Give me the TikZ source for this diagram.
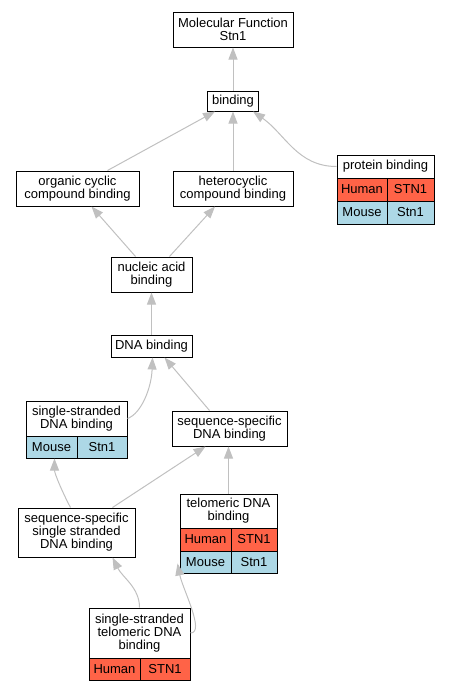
\documentclass[tikz,border=0pt]{standalone}
\usepackage{fontspec}
\setmainfont{Liberation Sans}
\usepackage{xcolor}
\usetikzlibrary{arrows.meta}
\definecolor{humanred}{HTML}{FF6347}
\definecolor{mouseblue}{HTML}{ADD8E6}
\definecolor{edgegray}{HTML}{C0C0C0}
\tikzset{
    term/.style={draw, line width=1pt, fill=white, align=center, inner sep=0pt,
        font=\fontsize{13}{13}\selectfont},
    human/.style={term, fill=humanred},
    mouse/.style={term, fill=mouseblue},
    edge/.style={draw=edgegray, line width=1pt, -{Triangle[length=12pt, width=9pt, fill=edgegray]}}
}
\begin{document}
\begin{tikzpicture}[x=1pt, y=-1pt]
        \useasboundingbox (0, 0) rectangle (449, 691);
        \node[term, minimum width=120, minimum height=35] at (233, 29.5)   (mf)  {Molecular Function\\Stn1};
        \node[term, minimum width=51, minimum height=20]  at (233, 101)    (bind) {binding};
        \node[term, minimum width=123, minimum height=35] at (77.5, 188.5) (org) {organic cyclic\\compound binding};
        \node[term, minimum width=120, minimum height=35] at (233, 188.5)  (het) {heterocyclic\\compound binding};
        % protein binding table
        \node[term, minimum width=97, minimum height=23]  at (385.5, 166.5) (pb)   {protein binding};
        \node[human, minimum width=50, minimum height=23] at (362, 189.5)   (pbH1) {Human};
        \node[human, minimum width=47, minimum height=23] at (410.5, 189.5) (pbH2) {STN1};
        \node[mouse, minimum width=50, minimum height=23] at (362, 212.5)   (pbM1) {Mouse};
        \node[mouse, minimum width=47, minimum height=23] at (410.5, 212.5) (pbM2) {Stn1};
        \node[term, minimum width=81, minimum height=35]  at (151.5, 274.5) (nuc) {nucleic acid\\binding};
        \node[term, minimum width=81, minimum height=22]  at (151.5, 346)   (dna) {DNA binding};
        % single-stranded DNA binding table
        \node[term, minimum width=101, minimum height=35] at (76.5, 418.5) (ss)   {single-stranded\\DNA binding};
        \node[mouse, minimum width=51, minimum height=22] at (51.5, 447)   (ssM1) {Mouse};
        \node[mouse, minimum width=50, minimum height=22] at (102, 447)    (ssM2) {Stn1};
        \node[term, minimum width=115, minimum height=35] at (229.5, 428.5) (seq) {sequence-specific\\DNA binding};
        \node[term, minimum width=117, minimum height=49] at (76.5, 532.5)  (seqss) {sequence-specific\\single stranded\\DNA binding};
        % telomeric DNA binding table
        \node[term, minimum width=97, minimum height=34]  at (228.5, 511)   (tel)   {telomeric DNA\\binding};
        \node[human, minimum width=51, minimum height=23] at (205.5, 539.5) (telH1) {Human};
        \node[human, minimum width=46, minimum height=23] at (254, 539.5)   (telH2) {STN1};
        \node[mouse, minimum width=51, minimum height=22] at (205.5, 562)   (telM1) {Mouse};
        \node[mouse, minimum width=46, minimum height=22] at (254, 562)     (telM2) {Stn1};
        % single-stranded telomeric DNA binding table
        \node[term, minimum width=101, minimum height=50] at (139.5, 633)   (sstel)   {single-stranded\\telomeric DNA\\binding};
        \node[human, minimum width=51, minimum height=22] at (114.5, 669)   (sstelH1) {Human};
        \node[human, minimum width=50, minimum height=22] at (165, 669)     (sstelH2) {STN1};
        \coordinate (telin) at ([xshift=-2pt, yshift=10pt]telM1.south west);

        \draw [edge] (bind) -- (mf);
        \draw [edge] ([xshift=30pt]org.north) -- ([xshift=-18pt]bind.south);
        \draw [edge] (het) -- (bind);
        \draw [edge] (pb.west) to[out=180, in=-35] ([xshift=-6pt]bind.south east);
        \draw [edge] ([xshift=-16pt]nuc.north) -- ([xshift=14pt]org.south);
        \draw [edge] ([xshift=18pt]nuc.north) -- ([xshift=-18pt]het.south);
        \draw [edge] (dna) -- (nuc);
        \draw [edge] (ss.east) .. controls +(14, -5) and +(-1, 30) .. ([xshift=1pt]dna.south);
        \draw [edge] ([xshift=-20pt]seq.north) -- ([xshift=13pt]dna.south);
        \draw [edge] ([xshift=-6pt]seqss.north) .. controls +(-8, -15) and +(0, 15) .. ([xshift=3pt]ssM1.south);
        \draw [edge] ([xshift=36pt]seqss.north) -- ([xshift=-24pt]seq.south);
        \draw [edge] (tel.north) -- (tel.north |- seq.south);
        \draw [edge] (sstel.north) .. controls +(0, -20) and +(10, 20) .. ([xshift=36pt]seqss.south);
        \draw [edge] (sstel.east) .. controls +(15, 0) and +(5, 25) .. (telin);
    \end{tikzpicture}
\end{document}
